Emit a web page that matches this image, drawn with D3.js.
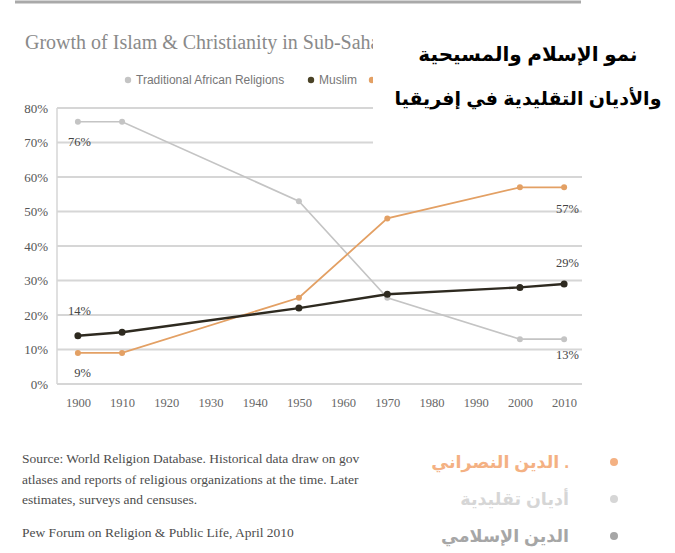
<!DOCTYPE html>
<html>
<head>
<meta charset="utf-8">
<script src="https://cdn.jsdelivr.net/npm/d3@7"></script>
<style>
  html, body { margin: 0; padding: 0; background: #fff; }
  svg { display: block; }
</style>
</head>
<body>
<svg id="chart" width="675" height="553"></svg>
<script>
// ---- data ----
const yearLabels = ["1900","1910","1920","1930","1940","1950","1960","1970","1980","1990","2000","2010"];
const dataYears = ["1900","1910","1950","1970","2000","2010"];
const traditional = [76, 76, 53, 25, 13, 13];
const muslim = [14, 15, 22, 26, 28, 29];
const christian = [9, 9, 25, 48, 57, 57];
const yTicks = [0, 10, 20, 30, 40, 50, 60, 70, 80];
const titleEn = "Growth of Islam & Christianity in Sub-Saharan Africa";
const legendEn = ["Traditional African Religions", "Muslim", "Christian"];
const titleAr = ["نمو الإسلام والمسيحية", "والأديان التقليدية في إفريقيا"];
const legendAr = ["الدين النصراني .", "أديان تقليدية", "الدين الإسلامي"];
// source note as far as it is visible beside the Arabic legend
const sourceLines = [
  "Source: World Religion Database. Historical data draw on gov",
  "atlases and reports of religious organizations at the time. Later",
  "estimates, surveys and censuses."
];
const credit = "Pew Forum on Religion & Public Life, April 2010";
const startLabels = ["76%", "14%", "9%"];
const endLabels = ["13%", "29%", "57%"];

const colors = { trad: "#c4c4c4", mus: "#2e2a20", chr: "#e3a064" };
const serif = "'Liberation Serif', 'Times New Roman', serif";

const svg = d3.select("#chart");
const defs = svg.append("defs");
defs.append("clipPath").attr("id", "leftClip")
  .append("rect").attr("x", 0).attr("y", 0).attr("width", 373).attr("height", 553);

// top border
svg.append("line").attr("x1", 15).attr("x2", 581).attr("y1", 2).attr("y2", 2)
  .attr("stroke", "#a9a9a9").attr("stroke-width", 3);

const x = d3.scalePoint().domain(yearLabels).range([58, 584]).padding(0.45);
const y = d3.scaleLinear().domain([0, 80]).range([384, 108]);

// gridlines
svg.append("g").selectAll("line").data(yTicks).join("line")
  .attr("x1", 57).attr("x2", 582)
  .attr("y1", d => y(d)).attr("y2", d => y(d))
  .attr("stroke", "#d6d6d6").attr("stroke-width", 2);
// left axis line
svg.append("line").attr("x1", 57).attr("x2", 57).attr("y1", y(80)).attr("y2", y(0))
  .attr("stroke", "#d6d6d6").attr("stroke-width", 1.5);

// y axis labels
const yAxis = d3.axisLeft(y).tickValues(yTicks).tickFormat(d => d + "%").tickSize(0).tickPadding(0);
const gy = svg.append("g").attr("transform", "translate(48,0)").call(yAxis);
gy.attr("font-family", serif).attr("font-size", 13);
gy.select(".domain").remove();
gy.selectAll("text").attr("fill", "#555");

// x axis labels
const xAxis = d3.axisBottom(x).tickSize(0).tickPadding(0);
const gx = svg.append("g").attr("transform", "translate(0,398)").call(xAxis);
gx.attr("font-family", serif).attr("font-size", 12.5);
gx.select(".domain").remove();
gx.selectAll("text").attr("fill", "#666");

// series
const series = [
  { key: "trad", vals: traditional, w: 1.6, r: 3 },
  { key: "chr", vals: christian, w: 1.8, r: 3 },
  { key: "mus", vals: muslim, w: 2.4, r: 3.5 }
];
const line = d3.line().x(d => x(d.year)).y(d => y(d.v));
series.forEach(s => {
  const pts = dataYears.map((yr, i) => ({ year: yr, v: s.vals[i] }));
  svg.append("path").datum(pts).attr("d", line)
    .attr("fill", "none").attr("stroke", colors[s.key]).attr("stroke-width", s.w);
  svg.append("g").selectAll("circle").data(pts).join("circle")
    .attr("cx", d => x(d.year)).attr("cy", d => y(d.v)).attr("r", s.r)
    .attr("fill", colors[s.key]);
});

// data labels
const startVals = [traditional[0], muslim[0], christian[0]];
const startOff = [24, -21, 24];
startLabels.forEach((t, i) => {
  svg.append("text").attr("x", 91).attr("y", y(startVals[i]) + startOff[i])
    .attr("text-anchor", "end").attr("font-family", serif).attr("font-size", 12.5)
    .attr("fill", "#444").text(t);
});
const endVals = [traditional[5], muslim[5], christian[5]];
const endOff = [20, -17, 26];
endLabels.forEach((t, i) => {
  svg.append("text").attr("x", 579).attr("y", y(endVals[i]) + endOff[i])
    .attr("text-anchor", "end").attr("font-family", serif).attr("font-size", 12.5)
    .attr("fill", "#444").text(t);
});

// english title & legend (partly hidden behind the Arabic overlay)
const topLeft = svg.append("g").attr("clip-path", "url(#leftClip)");
topLeft.append("text").attr("x", 25).attr("y", 49).attr("font-family", serif)
  .attr("font-size", 20).attr("fill", "#8a8a8a").text(titleEn);
const legColors = [colors.trad, "#4a4226", colors.chr];
const legX = [128, 311, 372];
legendEn.forEach((t, i) => {
  topLeft.append("circle").attr("cx", legX[i]).attr("cy", 80).attr("r", 3.2).attr("fill", legColors[i]);
  topLeft.append("text").attr("x", legX[i] + 8).attr("y", 84).attr("font-family", "'Liberation Sans', sans-serif")
    .attr("font-size", 12).attr("fill", "#777").text(t);
});

// source
const bottomLeft = svg.append("g").attr("clip-path", "url(#leftClip)");
sourceLines.forEach((t, i) => {
  bottomLeft.append("text").attr("x", 22).attr("y", 463 + i * 20.5).attr("font-family", serif)
    .attr("font-size", 13.5).attr("fill", "#4d4d4d").text(t);
});
bottomLeft.append("text").attr("x", 22).attr("y", 537).attr("font-family", serif)
  .attr("font-size", 13.5).attr("fill", "#4d4d4d").text(credit);

// white overlay box behind the Arabic title (hides upper gridlines on the right)
svg.append("rect").attr("x", 373).attr("y", 29).attr("width", 302).attr("height", 131).attr("fill", "#fff");

// arabic title
const arFont = "Arial, 'DejaVu Sans', sans-serif";
const arSizes = [20, 19];
titleAr.forEach((t, i) => {
  svg.append("text").attr("x", 528).attr("y", 61 + i * 44).attr("text-anchor", "middle")
    .attr("font-family", arFont).attr("font-weight", "bold")
    .attr("font-size", arSizes[i]).attr("fill", "#000").text(t);
});

// arabic legend
const arLegColors = ["#f4b183", "#d6d6d6", "#a6a6a6"];
legendAr.forEach((t, i) => {
  const cy = 462 + i * 37;
  svg.append("circle").attr("cx", 614).attr("cy", cy).attr("r", 4).attr("fill", arLegColors[i]);
  svg.append("text").attr("x", 569).attr("y", cy + 6).attr("text-anchor", "end")
    .attr("font-family", arFont).attr("font-weight", "bold")
    .attr("font-size", 17.5).attr("fill", arLegColors[i]).text(t);
});
</script>
</body>
</html>
